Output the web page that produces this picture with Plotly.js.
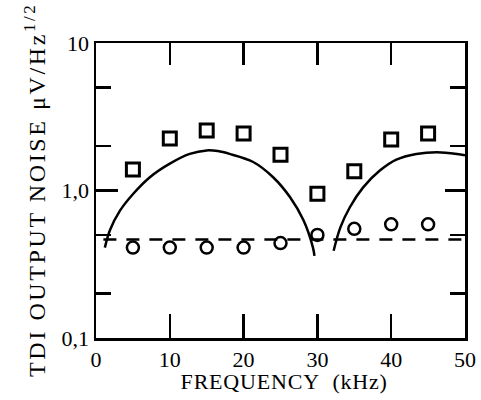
<!DOCTYPE html>
<html>
<head>
<meta charset="utf-8">
<script src="https://cdn.plot.ly/plotly-3.0.1.min.js"></script>
<style>
html,body{margin:0;padding:0;background:#fff;}
#chart{width:481px;height:400px;}
g.annotation[data-index="0"] text{letter-spacing:0.8px;}
g.annotation[data-index="1"] text{letter-spacing:2.6px;}
</style>
</head>
<body>
<div id="chart"></div>
<script>
// Measured points (frequency in kHz)
const markerFreq = [5, 10, 15, 20, 25, 30, 35, 40, 45];
const squareNoise = [1.39, 2.25, 2.55, 2.43, 1.75, 0.95, 1.35, 2.22, 2.43];
const circleNoise = [0.41, 0.41, 0.41, 0.41, 0.44, 0.50, 0.55, 0.59, 0.59];

// Solid theoretical curve, first arc
const arc1Freq  = [1.2, 1.9, 3.25, 5.05, 7.3, 10, 12.7, 15, 16.5, 18.1, 21.3, 24, 26.3, 28.1, 29.4, 29.6];
const arc1Noise = [0.41, 0.54, 0.73, 0.95, 1.23, 1.52, 1.77, 1.87, 1.85, 1.77, 1.56, 1.23, 0.90, 0.63, 0.41, 0.36];
// Solid theoretical curve, second arc
const arc2Freq  = [32.2, 33.1, 34.4, 36.2, 38.5, 40.7, 43.4, 46.2, 48.9, 50];
const arc2Noise = [0.39, 0.56, 0.77, 1.05, 1.37, 1.62, 1.77, 1.82, 1.77, 1.73];

// Dashed level
const dashFreq  = [1, 50];
const dashNoise = [0.465, 0.465];

// Axis ticks and titles
const xTicks = [0, 10, 20, 30, 40, 50];
const yTicks = [0.1, 1, 10];
const yTickText = ['0,1', '1,0', '10'];
const yMinorTicks = [0.2, 0.5, 2, 5];
const xTitle = 'FREQUENCY\u00a0\u00a0(kHz)';
const yTitle = 'TDI OUTPUT NOISE μV/Hz<sup>1/2</sup>';

const traces = [
  {x: arc1Freq, y: arc1Noise, mode: 'lines', line: {color: '#000', width: 2.5, shape: 'spline'}, hoverinfo: 'skip'},
  {x: arc2Freq, y: arc2Noise, mode: 'lines', line: {color: '#000', width: 2.5, shape: 'spline'}, hoverinfo: 'skip'},
  {x: dashFreq, y: dashNoise, mode: 'lines', line: {color: '#000', width: 2.5, dash: '13px,10px'}, hoverinfo: 'skip'},
  {x: markerFreq, y: squareNoise, mode: 'markers',
   marker: {symbol: 'square-open', size: 13, color: '#000', line: {width: 3, color: '#000'}}},
  {x: markerFreq, y: circleNoise, mode: 'markers',
   marker: {symbol: 'circle-open', size: 12, color: '#000', line: {width: 2.5, color: '#000'}}},
  // invisible trace binding the mirrored (top/right) axes
  {x: dashFreq, y: dashNoise, xaxis: 'x2', yaxis: 'y2', mode: 'lines', line: {width: 0}, opacity: 0, hoverinfo: 'skip'}
];

const serif = 'Liberation Serif';

const tickStyle = {ticks: 'inside', tickwidth: 2.5, tickcolor: '#000', showgrid: false, zeroline: false,
                   showline: true, linewidth: 2.5, linecolor: '#000'};

const layout = {
  width: 481, height: 400,
  margin: {l: 96, r: 16, t: 43, b: 62},
  paper_bgcolor: '#fff', plot_bgcolor: '#fff',
  showlegend: false,
  font: {family: serif, color: '#000'},
  xaxis: Object.assign({}, tickStyle, {
    range: [0, 50], tickvals: xTicks, ticktext: xTicks.map(String), ticklen: 24,
    tickfont: {family: serif, size: 22, color: '#000'}
  }),
  yaxis: Object.assign({}, tickStyle, {
    type: 'log', range: [-1, 1], tickvals: yTicks, ticktext: yTickText, ticklen: 22,
    minor: {tickvals: yMinorTicks, ticks: 'inside', ticklen: 15, tickwidth: 2.5, tickcolor: '#000', showgrid: false},
    tickfont: {family: serif, size: 22, color: '#000'}
  }),
  xaxis2: Object.assign({}, tickStyle, {
    overlaying: 'x', side: 'top', anchor: 'y', range: [0, 50], tickvals: xTicks, ticklen: 22,
    showticklabels: false
  }),
  yaxis2: Object.assign({}, tickStyle, {
    overlaying: 'y', side: 'right', anchor: 'x', type: 'log', range: [-1, 1], tickvals: yTicks, ticklen: 20,
    minor: {tickvals: yMinorTicks, ticks: 'inside', ticklen: 15, tickwidth: 2.5, tickcolor: '#000', showgrid: false},
    showticklabels: false
  }),
  annotations: [
    {text: xTitle, xref: 'paper', yref: 'paper', x: 0.51, y: -0.148,
     xanchor: 'center', yanchor: 'middle', showarrow: false,
     font: {family: serif, size: 22, color: '#000'}},
    {text: yTitle, xref: 'paper', yref: 'paper', x: -0.168, y: 0.5, textangle: -90,
     xanchor: 'center', yanchor: 'middle', showarrow: false,
     font: {family: serif, size: 24, color: '#000'}}
  ]
};

Plotly.newPlot('chart', traces, layout, {displayModeBar: false, staticPlot: true});
</script>
</body>
</html>
